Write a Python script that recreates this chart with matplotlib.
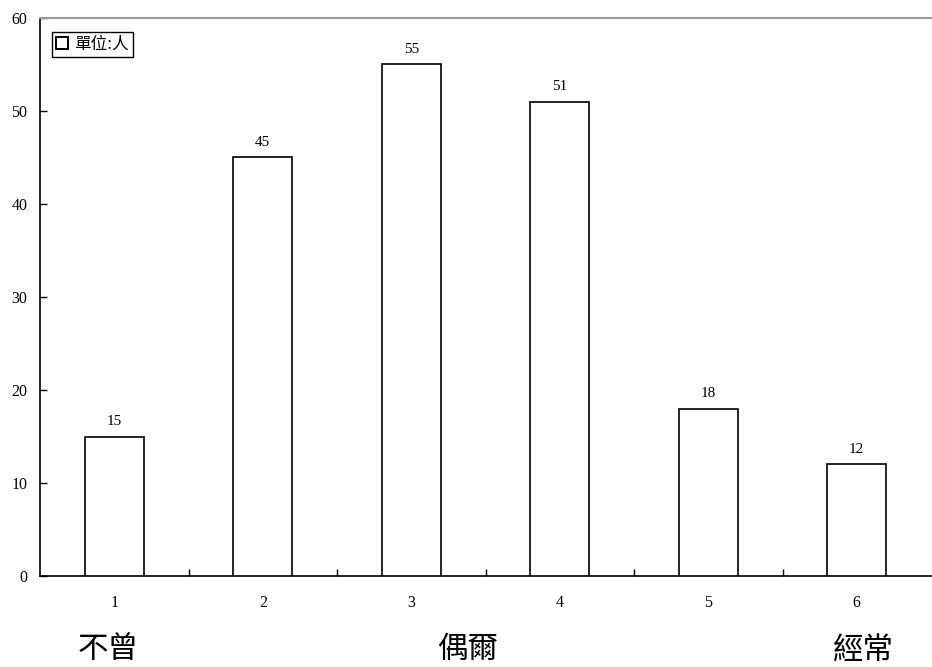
import matplotlib
matplotlib.use("Agg")
import matplotlib.pyplot as plt
from matplotlib.patches import Patch

categories = ["1", "2", "3", "4", "5", "6"]
values = [15, 45, 55, 51, 18, 12]
yticks = [0, 10, 20, 30, 40, 50, 60]
legend_label = "單位:人"
scale_labels = ["不曾", "偶爾", "經常"]

serif = ["Liberation Serif", "DejaVu Serif"]
cjk = ["Noto Sans CJK TC", "DejaVu Sans"]

fig = plt.figure(figsize=(9.32, 6.67), dpi=100)
ax = fig.add_axes([40/932, 1 - 576/667, (931-40)/932, (576-18)/667])

x = list(range(len(categories)))
ax.bar(x, values, width=0.4, color="white", edgecolor="black", linewidth=1.2, zorder=3)
for xi, v in zip(x, values):
    ax.annotate(str(v), (xi, v), xytext=(0, 6), textcoords="offset points",
                ha="center", va="bottom", fontsize=11, family=serif)

ax.set_xlim(-0.5, len(categories) - 0.5)
ax.set_ylim(0, 60)
ax.set_yticks(yticks)
ax.set_yticklabels([str(t) for t in yticks], family=serif, fontsize=11.5)
ax.set_xticks(x)
ax.set_xticklabels(categories, family=serif, fontsize=11.5)
ax.tick_params(axis="x", length=0, pad=14)
ax.set_xticks([i + 0.5 for i in x[:-1]], minor=True)
ax.tick_params(axis="x", which="minor", direction="in", length=5, width=1)
ax.tick_params(axis="y", direction="in", length=5, width=1, pad=9)

ax.spines["right"].set_visible(False)
ax.spines["top"].set_color("#999999")
ax.spines["top"].set_linewidth(1.5)
ax.spines["left"].set_linewidth(1.2)
ax.spines["bottom"].set_linewidth(1.2)

leg = ax.legend(handles=[Patch(facecolor="white", edgecolor="black", linewidth=1.4)],
                labels=[legend_label], loc="upper left", bbox_to_anchor=(0.013, 0.975),
                frameon=True, fancybox=False, edgecolor="black", framealpha=1,
                prop={"family": cjk, "size": 12}, handlelength=0.75, handleheight=0.75,
                handletextpad=0.35, borderpad=0.25, borderaxespad=0)
leg.get_frame().set_linewidth(1.0)

label_x = [108, 468, 863]
for lx, lab in zip(label_x, scale_labels):
    fig.text(lx/932, 1 - 650/667, lab, ha="center", va="center", fontsize=22, family=cjk)

fig.savefig("out.png", dpi=100)
